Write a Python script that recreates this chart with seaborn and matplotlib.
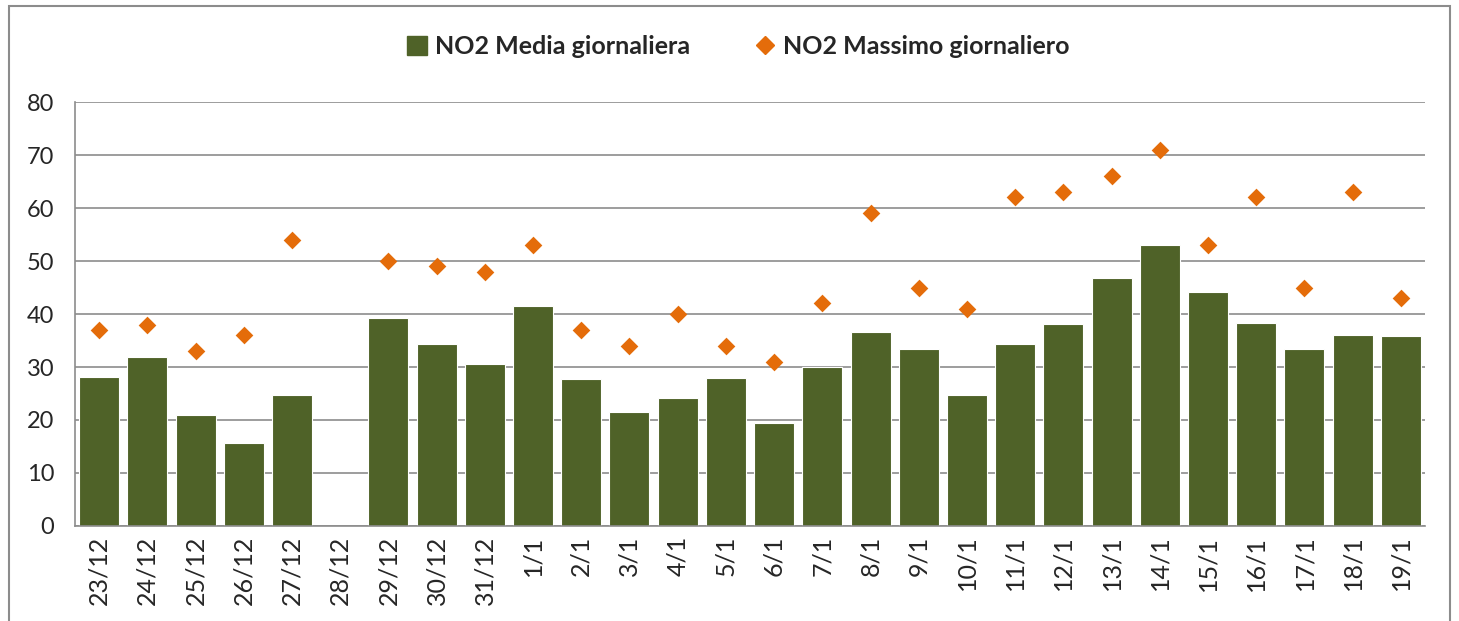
import numpy as np
import pandas as pd
import seaborn as sns
import matplotlib.pyplot as plt
from matplotlib.patches import Rectangle
from matplotlib.lines import Line2D

# Daily NO2 values
giorni = ['23/12', '24/12', '25/12', '26/12', '27/12', '28/12', '29/12', '30/12', '31/12',
          '1/1', '2/1', '3/1', '4/1', '5/1', '6/1', '7/1', '8/1', '9/1', '10/1', '11/1',
          '12/1', '13/1', '14/1', '15/1', '16/1', '17/1', '18/1', '19/1']
media = [28.1, 31.9, 20.9, 15.7, 24.7, np.nan, 39.2, 34.3, 30.6,
         41.5, 27.7, 21.5, 24.2, 27.9, 19.4, 30.0, 36.6, 33.4, 24.7, 34.3,
         38.1, 46.8, 53.0, 44.2, 38.3, 33.4, 36.0, 35.8]
massimo = [37, 38, 33, 36, 54, np.nan, 50, 49, 48,
           53, 37, 34, 40, 34, 31, 42, 59, 45, 41, 62,
           63, 66, 71, 53, 62, 45, 63, 43]

df = pd.DataFrame({'giorno': giorni, 'media': media, 'massimo': massimo})

sns.set_style('white')
plt.rcParams['font.family'] = ['Lato', 'DejaVu Sans']

verde = '#4F6228'
arancio = '#E46C0A'

fig = plt.figure(figsize=(14.59, 6.21), dpi=100)
ax = fig.add_axes([0.0514, 0.153, 0.9253, 0.6827])

sns.barplot(data=df, x='giorno', y='media', order=giorni, color=verde,
            saturation=1, width=0.83, edgecolor='white', linewidth=0.8, ax=ax, zorder=2)
sns.stripplot(data=df.dropna(), x='giorno', y='massimo', order=giorni, jitter=False,
              marker='D', size=9, color=arancio, linewidth=0, ax=ax, zorder=3)

ax.set_ylim(0, 80)
ax.set_xlim(-0.5, len(giorni) - 0.5)
ax.set_yticks(range(0, 81, 10))
ax.yaxis.grid(True, color='#8C8C8C', linewidth=1.2, zorder=0)
ax.set_axisbelow(True)
ax.set_xlabel('')
ax.set_ylabel('')

for s in ['top', 'right']:
    ax.spines[s].set_visible(False)
for s in ['left', 'bottom']:
    ax.spines[s].set_color('#8C8C8C')
    ax.spines[s].set_linewidth(1.2)

ax.tick_params(axis='y', length=7, width=1.2, color='#8C8C8C', labelsize=17, pad=8)
ax.tick_params(axis='x', length=0, labelsize=18, rotation=90, pad=7)
ax.set_xticks(np.arange(len(giorni)) + 0.5, minor=True)
ax.tick_params(axis='x', which='minor', length=7, width=1.2, color='#8C8C8C')
ax.set_xticks(np.arange(len(giorni)), labels=giorni)

handles = [Rectangle((0, 0), 1, 1, color=verde),
           Line2D([], [], marker='D', color=arancio, linestyle='none', markersize=9)]
leg = fig.legend(handles, ['NO2 Media giornaliera', 'NO2 Massimo giornaliero'],
                 loc='center', bbox_to_anchor=(0.506, 0.925), ncol=2, frameon=False,
                 prop={'size': 18, 'weight': 'bold'}, handlelength=0.8, handleheight=0.8,
                 handletextpad=0.3, columnspacing=2.6)

fig.patches.append(Rectangle((0.006, -0.05), 0.988, 1.04, transform=fig.transFigure,
                             fill=False, edgecolor='#8C8C8C', linewidth=1.5))

fig.savefig('out.png', dpi=100)
